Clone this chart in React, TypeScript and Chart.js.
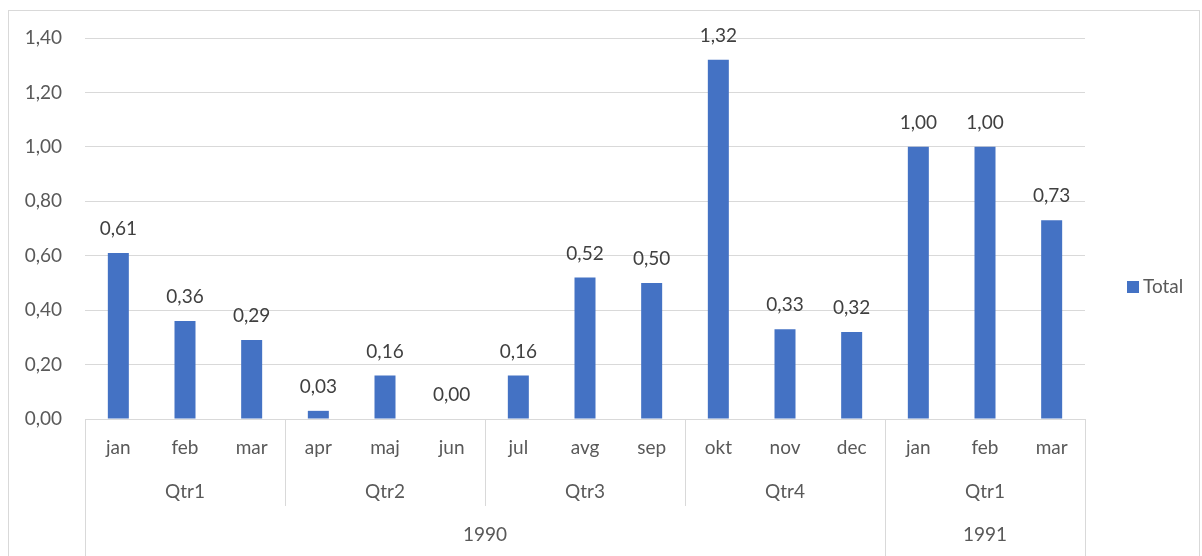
import React, { useEffect, useRef } from "react";
import { Chart, registerables } from "chart.js";

Chart.register(...registerables);

const months = ["jan", "feb", "mar", "apr", "maj", "jun", "jul", "avg", "sep", "okt", "nov", "dec", "jan", "feb", "mar"];
const quarters = [
  { label: "Qtr1", span: 3 },
  { label: "Qtr2", span: 3 },
  { label: "Qtr3", span: 3 },
  { label: "Qtr4", span: 3 },
  { label: "Qtr1", span: 3 },
];
const years = [
  { label: "1990", span: 12 },
  { label: "1991", span: 3 },
];
const totals = [0.61, 0.36, 0.29, 0.03, 0.16, 0.0, 0.16, 0.52, 0.5, 1.32, 0.33, 0.32, 1.0, 1.0, 0.73];
const seriesName = "Total";

const FONT = "Lato, 'Open Sans', sans-serif";
const TEXT = "#595959";
const LINE = "#d9d9d9";
const BAR = "#4472C4";

const fmt = (v: number) => v.toFixed(2).replace(".", ",");

const extrasPlugin = {
  id: "extras",
  afterDraw(chart: any) {
    const ctx = chart.ctx;
    const x = chart.scales.x;
    const area = chart.chartArea;
    const n = months.length;
    const cw = (area.right - area.left) / n;
    const edge = (i: number) => x.getPixelForValue(i) - cw / 2;

    ctx.save();
    // outer border
    ctx.strokeStyle = LINE;
    ctx.lineWidth = 1;
    ctx.strokeRect(8.5, 10.5, 1191, 600);

    // data labels
    const meta = chart.getDatasetMeta(0);
    ctx.fillStyle = "#404040";
    ctx.font = `19px ${FONT}`;
    ctx.textAlign = "center";
    ctx.textBaseline = "middle";
    meta.data.forEach((el: any, i: number) => {
      ctx.fillText(fmt(totals[i]), el.x, el.y - 24);
    });

    // multi-level category axis
    const bottom = area.bottom;
    ctx.fillStyle = TEXT;
    months.forEach((m, i) => {
      ctx.fillText(m, x.getPixelForValue(i), bottom + 29);
    });
    // quarter labels and separators
    let idx = 0;
    const yearEdges = new Set<number>();
    let yi = 0;
    years.forEach((y) => {
      yi += y.span;
      yearEdges.add(yi);
    });
    yearEdges.add(0);
    ctx.strokeStyle = LINE;
    ctx.lineWidth = 1;
    const vline = (px: number, y2: number) => {
      const xx = Math.round(px) + 0.5;
      ctx.beginPath();
      ctx.moveTo(xx, bottom);
      ctx.lineTo(xx, y2);
      ctx.stroke();
    };
    vline(edge(0), 556);
    quarters.forEach((q) => {
      const start = idx;
      idx += q.span;
      const cx = (edge(start) + edge(idx)) / 2;
      ctx.fillText(q.label, cx, bottom + 73);
      if (!yearEdges.has(idx)) vline(edge(idx), bottom + 87);
    });
    idx = 0;
    years.forEach((y) => {
      const start = idx;
      idx += y.span;
      const cx = (edge(start) + edge(idx)) / 2;
      ctx.fillText(y.label, cx, bottom + 116);
      vline(edge(idx), 556);
    });

    // legend
    ctx.fillStyle = BAR;
    ctx.fillRect(1127, 281, 12, 12);
    ctx.fillStyle = TEXT;
    ctx.textAlign = "left";
    ctx.fillText(seriesName, 1143, 287);
    ctx.restore();
  },
};

export default function App() {
  const ref = useRef<HTMLCanvasElement | null>(null);
  useEffect(() => {
    if (!ref.current) return;
    const chart = new Chart(ref.current, {
      type: "bar",
      data: {
        labels: months,
        datasets: [
          {
            label: seriesName,
            data: totals,
            backgroundColor: BAR,
            barPercentage: 0.315,
            categoryPercentage: 1,
          },
        ],
      },
      options: {
        animation: false,
        responsive: false,
        maintainAspectRatio: false,
        layout: { padding: { left: 0, right: 117, top: 38, bottom: 137 } },
        plugins: { legend: { display: false }, tooltip: { enabled: false } },
        scales: {
          x: { display: false },
          y: {
            min: 0,
            max: 1.4,
            afterFit: (s: any) => {
              s.width = 85;
            },
            ticks: {
              stepSize: 0.2,
              padding: 23,
              color: TEXT,
              font: { family: FONT, size: 19 },
              callback: (v: any) => fmt(Number(v)),
            },
            grid: { color: LINE, drawTicks: false },
            border: { display: false },
          },
        },
      },
      plugins: [extrasPlugin],
    });
    return () => chart.destroy();
  }, []);
  return (
    <div style={{ position: "fixed", left: 0, top: 0, width: 1202, height: 556, background: "#fff" }}>
      <canvas ref={ref} width={1202} height={556} style={{ display: "block" }} />
    </div>
  );
}
